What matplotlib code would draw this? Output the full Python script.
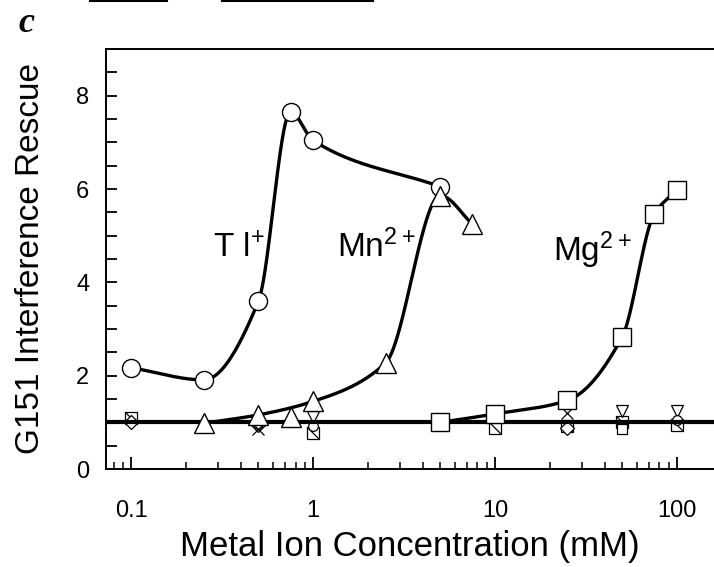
import numpy as np
import matplotlib
matplotlib.use("Agg")
import matplotlib.pyplot as plt
from matplotlib.path import Path
from matplotlib.lines import Line2D

plt.rcParams['font.family'] = ['Liberation Sans', 'DejaVu Sans']
plt.rcParams['mathtext.fontset'] = 'custom'
plt.rcParams['mathtext.rm'] = 'Liberation Sans'
plt.rcParams['mathtext.default'] = 'regular'

### Data ###
tl_x = [0.1, 0.25, 0.5, 0.75, 1.0, 5.0]
tl_y = [2.17, 1.91, 3.6, 7.65, 7.04, 6.05]

mn_x = [0.25, 0.5, 0.75, 1.0, 2.5, 5.0, 7.5]
mn_y = [0.98, 1.16, 1.11, 1.45, 2.27, 5.86, 5.25]
# the fitted curve skips the 0.75 mM point
mn_curve_x = [0.25, 0.5, 1.0, 2.5, 5.0, 7.5]
mn_curve_y = [0.98, 1.16, 1.45, 2.27, 5.86, 5.25]

mg_x = [5.0, 10.0, 25.0, 50.0, 75.0, 100.0]
mg_y = [1.0, 1.18, 1.47, 2.83, 5.46, 5.98]

# other metal ions (no rescue), clustered around 1
box_x = [0.1, 1.0, 10.0, 25.0, 50.0, 100.0]
box_y = [1.09, 0.77, 0.87, 0.93, 1.0, 0.95]
dia_x = [0.1, 0.5, 25.0]
dia_y = [1.0, 0.95, 0.88]
cross_x = [0.5, 25.0]
cross_y = [0.85, 1.2]
vtri_x = [1.0, 50.0, 100.0]
vtri_y = [1.12, 1.25, 1.25]
circ_x = [0.5, 1.0, 100.0]
circ_y = [0.97, 0.92, 1.05]
sq_x = [50.0]
sq_y = [0.85]

baseline = 1.0

labels = ['T l$^{+}$', 'Mn$^{2+}$', 'Mg$^{2+}$']
label_x = [0.282, 1.355, 20.8]
label_y = [4.54, 4.54, 4.46]

xticks = [0.1, 1, 10, 100]
xticklabels = ['0.1', '1', '10', '100']
yticks = [0, 2, 4, 6, 8]


# smooth monotone curve (PCHIP) in log-x space for drawing the fitted lines
def smooth(xs, ys, n=200):
    lx = np.log10(np.asarray(xs, float))
    y = np.asarray(ys, float)
    h = np.diff(lx)
    d = np.diff(y) / h
    m = np.zeros_like(y)
    for i in range(1, len(y) - 1):
        if d[i - 1] * d[i] > 0:
            w1 = 2 * h[i] + h[i - 1]
            w2 = h[i] + 2 * h[i - 1]
            m[i] = (w1 + w2) / (w1 / d[i - 1] + w2 / d[i])
    m[0] = d[0]
    m[-1] = d[-1]
    out_x, out_y = [], []
    for i in range(len(h)):
        t = np.linspace(0, 1, n)
        h00 = 2 * t**3 - 3 * t**2 + 1
        h10 = t**3 - 2 * t**2 + t
        h01 = -2 * t**3 + 3 * t**2
        h11 = t**3 - t**2
        yy = h00 * y[i] + h10 * h[i] * m[i] + h01 * y[i + 1] + h11 * h[i] * m[i + 1]
        out_x.extend(10 ** (lx[i] + t * h[i]))
        out_y.extend(yy)
    return out_x, out_y


fig = plt.figure(figsize=(7.14, 5.67), dpi=100)
ax = fig.add_axes([106 / 714, 1 - 469 / 567, 1 - 106 / 714, (469 - 49) / 567])

ax.set_xscale('log')
ax.set_xlim(0.0725, 160)
ax.set_ylim(0, 9)

diag = Path([(-1, 1), (1, -1)], [Path.MOVETO, Path.LINETO])
ctrl = dict(linestyle='none', color='black', markerfacecolor='white', markeredgewidth=0.9, zorder=2)
ax.plot(box_x, box_y, marker='s', ms=9, **ctrl)
ax.plot(box_x, box_y, marker=diag, ms=9, linestyle='none', color='black', markeredgewidth=0.9, zorder=2)
ax.plot(dia_x, dia_y, marker='D', ms=7, **ctrl)
ax.plot(vtri_x, vtri_y, marker='v', ms=9, **ctrl)
ax.plot(circ_x, circ_y, marker='o', ms=7, **ctrl)
ax.plot(sq_x, sq_y, marker='s', ms=7, **ctrl)
ax.plot(cross_x, cross_y, marker='x', ms=8, linestyle='none', color='black', markeredgewidth=0.9, zorder=2)

ax.axhline(baseline, color='black', lw=3, zorder=3)

for xs, ys in [(tl_x, tl_y), (mn_curve_x, mn_curve_y), (mg_x, mg_y)]:
    sx, sy = smooth(xs, ys)
    ax.plot(sx, sy, color='black', lw=2.4, zorder=4, solid_capstyle='round')

main = dict(linestyle='none', color='black', markerfacecolor='white', markeredgewidth=1.0, zorder=5)
ax.plot(tl_x, tl_y, marker='o', ms=13, **main)
ax.plot(mn_x, mn_y, marker='^', ms=15, **main)
ax.plot(mg_x, mg_y, marker='s', ms=13, **main)

for txt, lx, ly in zip(labels, label_x, label_y):
    ax.text(lx, ly, txt, fontsize=24, ha='left', va='baseline')

# axes styling
ax.spines['right'].set_visible(False)
for s in ['left', 'bottom', 'top']:
    ax.spines[s].set_linewidth(1.4)

ax.set_xticks(xticks)
ax.set_xticklabels(xticklabels)
ax.xaxis.set_minor_locator(matplotlib.ticker.LogLocator(base=10, subs=np.arange(2, 10)))
ax.xaxis.set_minor_formatter(matplotlib.ticker.NullFormatter())
ax.set_yticks(yticks)
ax.set_yticks(np.arange(0, 9.01, 0.5), minor=True)

ax.tick_params(axis='x', which='major', direction='in', length=9, width=1.3, pad=22, labelsize=17)
ax.tick_params(axis='x', which='minor', direction='in', length=5, width=1.1)
ax.tick_params(axis='y', which='both', direction='in', length=8, width=1.3, pad=12, labelsize=17)
ax.tick_params(top=False, right=False, which='both')

ax.set_xlabel('Metal Ion Concentration (mM)', fontsize=25, labelpad=6)
ax.set_ylabel('G151 Interference Rescue', fontsize=24, labelpad=22)

# panel letter
fig.text(18 / 714, 1 - 32 / 567, 'c', fontsize=26, family='Liberation Serif',
         fontweight='bold', fontstyle='italic', ha='left', va='baseline')

# cut-off remnants of the panel above
fig.add_artist(Line2D([90 / 714, 167 / 714], [0.998, 0.998], color='black', lw=1.5))
fig.add_artist(Line2D([222 / 714, 373 / 714], [0.998, 0.998], color='black', lw=1.5))

fig.savefig('out.png', dpi=100)
